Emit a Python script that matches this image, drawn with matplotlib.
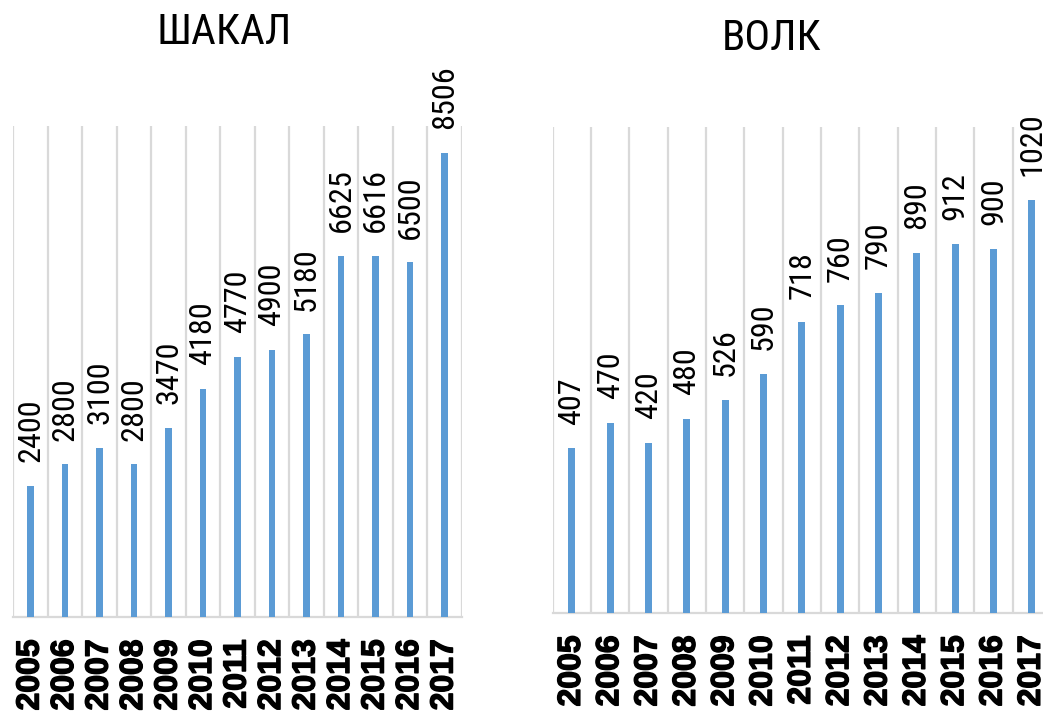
import os
import matplotlib
matplotlib.use('Agg')
import matplotlib.pyplot as plt
from matplotlib import font_manager as fm
import matplotlib.patheffects as pe
import numpy as np

years = ['2005', '2006', '2007', '2008', '2009', '2010', '2011',
         '2012', '2013', '2014', '2015', '2016', '2017']
jackal = [2400, 2800, 3100, 2800, 3470, 4180, 4770, 4900, 5180, 6625, 6616, 6500, 8506]
wolf = [407, 470, 420, 480, 526, 590, 718, 760, 790, 890, 912, 900, 1020]
titles = ['ШАКАЛ', 'ВОЛК']

BLUE = '#5B9BD5'
GRID = '#D9D9D9'


def find_condensed():
    bad = ('bold', 'italic', 'oblique', 'light', 'semi', 'extra', 'ultra',
           'medium', 'black', 'thin', 'mono', 'serif', 'book')
    cands = []
    for f in fm.fontManager.ttflist:
        b = os.path.basename(f.fname).lower()
        if ('narrow' in b or 'condensed' in b) and not any(k in b.replace('sans', '') for k in bad):
            cands.append(f)
    prio = ['liberationsansnarrow', 'arialnarrow', 'robotocondensed',
            'opensans', 'notosans', 'dejavusanscondensed']
    def key(f):
        b = os.path.basename(f.fname).lower().replace('-', '').replace('_', '')
        for i, p in enumerate(prio):
            if p in b:
                return i
        return len(prio)
    cands.sort(key=key)
    return cands[0].fname if cands else None


cfile = find_condensed()
if cfile:
    def narrow(size):
        return fm.FontProperties(fname=cfile, size=size)
else:
    def narrow(size):
        return fm.FontProperties(family=['Liberation Sans', 'DejaVu Sans'], size=size * 0.85)

W, H = 1043, 711
fig = plt.figure(figsize=(W / 100, H / 100), dpi=100)
ax1 = fig.add_axes([13.3 / W, (H - 617) / H, 448.5 / W, 491 / H])
ax2 = fig.add_axes([552.7 / W, (H - 613) / H, 498.3 / W, 486 / H])

# fit value-label size so that "8506" is ~64 px long
r = fig.canvas.get_renderer()
t = fig.text(0, 0, '8506', fontproperties=narrow(23))
w = t.get_window_extent(r).width
t.remove()
vsize = 23 * 64.0 / w

for ax, vals, ymax in [(ax1, jackal, 9000), (ax2, wolf, 1200)]:
    x = np.arange(len(years))
    ax.bar(x, vals, width=0.18, color=BLUE, zorder=3)
    ax.set_xlim(-0.5, len(years) - 0.5)
    ax.set_ylim(0, ymax)
    for b in np.arange(-0.5, len(years), 1.0):
        ax.axvline(b, color=GRID, lw=1.6, zorder=1)
    for s in ['top', 'left', 'right']:
        ax.spines[s].set_visible(False)
    ax.spines['bottom'].set_color(GRID)
    ax.spines['bottom'].set_linewidth(1.6)
    ax.set_yticks([])
    ax.set_xticks(x)
    labels = ax.set_xticklabels(years, rotation=90, fontweight='bold', fontsize=23,
                                family=['Liberation Sans', 'DejaVu Sans'])
    for lb in labels:
        lb.set_path_effects([pe.withStroke(linewidth=1.0, foreground='black')])
    ax.tick_params(axis='x', length=0, pad=16)
    for xi, v in zip(x, vals):
        ax.annotate(str(v), (xi, v), xytext=(0, 17), textcoords='offset points',
                    rotation=90, ha='center', va='bottom',
                    fontproperties=narrow(vsize))

fig.text(224 / W, 1 - 33 / H, titles[0], ha='center', va='center',
         fontproperties=narrow(vsize * 1.33))
fig.text(772 / W, 1 - 38 / H, titles[1], ha='center', va='center',
         fontproperties=narrow(vsize * 1.33))

fig.savefig('out.png', dpi=100)
